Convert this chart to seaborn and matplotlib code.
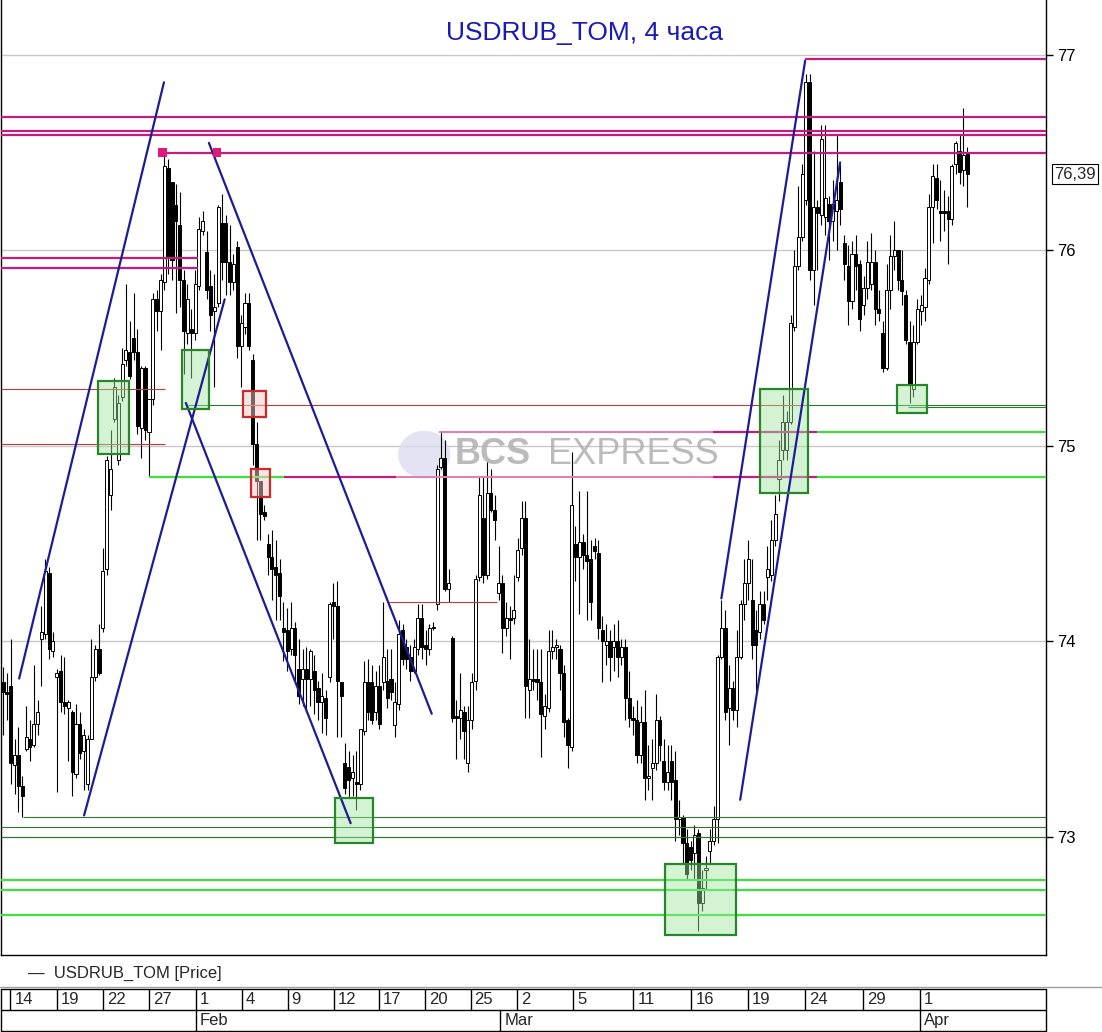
import matplotlib
matplotlib.use("Agg")
import matplotlib.pyplot as plt
from matplotlib.patches import Rectangle, Circle
from matplotlib.lines import Line2D
import numpy as np
import pandas as pd
import seaborn as sns

# 4h candles USDRUB_TOM, 14 Jan - 2 Apr
opens = [73.79, 73.74, 73.77, 73.37, 73.42, 73.26, 73.45, 73.50, 73.47, 73.58,
         74.01, 74.04, 74.35, 73.95, 73.82, 73.85, 73.69, 73.66, 73.64, 73.32,
         73.58, 73.44, 73.27, 73.50, 73.82, 73.96, 74.07, 74.37, 74.75, 75.14,
         74.93, 75.25, 75.44, 75.48, 75.55, 75.48, 75.09, 75.40, 75.07, 75.24,
         75.75, 75.69, 75.84, 76.42, 76.35, 76.23, 76.13, 75.85, 75.58, 75.60,
         75.58, 75.82, 76.10, 75.99, 75.82, 75.69, 75.73, 76.14, 76.14, 75.94,
         75.84, 76.02, 75.51, 75.61, 75.73, 75.44, 75.01, 74.82, 74.66, 74.50,
         74.43, 74.38, 74.35, 74.07, 74.06, 73.96, 74.07, 73.86, 73.81, 73.86,
         73.81, 73.85, 73.76, 73.69, 73.71, 73.82, 74.20, 74.18, 73.79, 73.38,
         73.36, 73.30, 73.28, 73.27, 73.54, 73.79, 73.79, 73.64, 73.77, 73.79,
         73.80, 73.81, 73.57, 73.68, 74.06, 73.97, 73.92, 73.85, 73.96, 74.12,
         73.98, 73.96, 74.07, 74.19, 74.89, 74.94, 74.27, 74.02, 73.62, 73.61,
         73.64, 73.38, 73.60, 73.80, 74.33, 74.63, 74.34, 74.76, 74.67, 74.25,
         74.30, 74.07, 74.12, 74.12, 74.33, 74.48, 74.63, 73.75, 73.81, 73.81,
         73.79, 73.62, 73.66, 73.95, 73.97, 73.96, 73.84, 73.60, 73.46, 74.50,
         74.43, 74.51, 74.44, 74.42, 74.49, 74.45, 74.06, 73.98, 74.00, 73.97,
         74.00, 73.92, 73.97, 73.71, 73.61, 73.60, 73.42, 73.59, 73.30, 73.35,
         73.38, 73.60, 73.39, 73.28, 73.39, 73.29, 73.09, 73.10, 72.97, 72.95,
         72.92, 73.02, 72.66, 72.83, 72.93, 72.98, 73.09, 73.92, 74.07, 73.66,
         73.76, 73.65, 73.92, 74.19, 74.30, 74.21, 74.06, 74.05, 74.19, 74.33,
         74.34, 74.52, 74.83, 74.98, 74.98, 75.12, 75.61, 75.92, 76.07, 76.26,
         76.86, 75.90, 76.22, 76.18, 76.17, 76.24, 76.15, 76.20, 76.35, 76.04,
         75.92, 75.74, 75.98, 75.93, 75.72, 75.81, 75.83, 75.94, 75.70, 75.58,
         75.40, 75.80, 75.97, 76.00, 75.85, 75.77, 75.53, 75.29, 75.53, 75.69,
         75.71, 75.85, 76.22, 76.37, 76.20, 76.20, 76.20, 76.16, 76.44, 76.51,
         76.41, 76.50]
highs = [73.87, 73.84, 74.01, 73.50, 73.56, 73.31, 73.67, 73.60, 73.88, 73.70,
         74.18, 74.42, 74.38, 74.05, 73.86, 73.93, 73.92, 73.70, 73.65, 73.68,
         73.64, 73.55, 73.52, 74.01, 73.98, 74.09, 74.48, 74.95, 75.08, 75.35,
         75.26, 75.50, 75.83, 75.64, 75.78, 75.60, 75.41, 75.41, 75.24, 75.78,
         75.80, 75.88, 76.49, 76.47, 76.35, 76.34, 76.30, 75.90, 75.83, 75.70,
         75.90, 76.17, 76.20, 76.10, 75.90, 75.88, 76.23, 76.29, 76.18, 76.13,
         75.98, 76.05, 75.67, 75.78, 75.78, 75.47, 75.12, 74.82, 74.70, 74.55,
         74.57, 74.52, 74.42, 74.20, 74.17, 74.20, 74.10, 74.01, 73.96, 73.97,
         73.96, 73.93, 73.80, 73.84, 73.75, 74.20, 74.30, 74.31, 73.79, 73.48,
         73.44, 73.42, 73.44, 73.55, 73.90, 73.91, 73.88, 73.85, 73.88, 74.20,
         73.96, 73.96, 73.79, 74.11, 74.09, 74.01, 73.98, 74.01, 74.19, 74.19,
         74.06, 74.09, 74.10, 74.90, 75.07, 75.03, 74.37, 74.03, 73.70, 73.84,
         73.67, 73.67, 73.84, 74.34, 74.84, 74.84, 74.92, 74.88, 74.75, 74.49,
         74.34, 74.20, 74.18, 74.34, 74.53, 74.72, 74.72, 74.01, 73.96, 73.96,
         73.96, 73.73, 74.06, 74.06, 74.01, 73.98, 73.88, 73.61, 74.97, 74.59,
         74.77, 74.55, 74.77, 74.52, 74.53, 74.52, 74.13, 74.09, 74.06, 74.09,
         74.11, 74.01, 74.01, 73.85, 73.67, 73.70, 73.67, 73.75, 73.47, 73.50,
         73.73, 73.62, 73.50, 73.47, 73.47, 73.44, 73.19, 73.11, 73.04, 72.98,
         73.06, 73.04, 72.83, 72.90, 73.04, 73.16, 73.93, 74.21, 74.16, 73.88,
         73.80, 74.06, 74.21, 74.42, 74.52, 74.42, 74.16, 74.26, 74.26, 74.49,
         74.62, 74.75, 75.03, 75.26, 75.18, 75.67, 76.00, 76.33, 76.44, 76.90,
         76.90, 76.51, 76.26, 76.64, 76.64, 76.28, 76.36, 76.59, 76.44, 76.08,
         76.03, 76.05, 76.08, 75.95, 75.87, 76.05, 76.09, 76.00, 75.80, 75.64,
         75.93, 76.08, 76.15, 76.00, 76.00, 75.80, 75.64, 75.62, 75.75, 75.77,
         75.91, 76.29, 76.44, 76.44, 76.36, 76.31, 76.28, 76.44, 76.56, 76.59,
         76.73, 76.53]
lows = [73.52, 73.60, 73.27, 73.22, 73.13, 73.10, 73.44, 73.39, 73.46, 73.52,
        73.77, 74.01, 73.91, 73.92, 73.23, 73.64, 73.63, 73.39, 73.21, 73.30,
        73.40, 73.24, 73.24, 73.50, 73.80, 73.83, 74.05, 74.34, 74.67, 75.12,
        74.90, 75.23, 75.41, 75.34, 75.44, 75.06, 74.94, 75.03, 74.84, 75.21,
        75.59, 75.49, 75.80, 75.88, 75.85, 75.68, 75.71, 75.37, 75.52, 75.35,
        75.54, 75.80, 76.08, 75.75, 75.59, 75.30, 75.71, 75.85, 75.77, 75.77,
        75.80, 75.45, 75.30, 75.57, 75.49, 74.90, 74.52, 74.52, 74.62, 74.34,
        74.21, 74.11, 74.11, 73.90, 73.85, 73.93, 73.80, 73.68, 73.67, 73.64,
        73.67, 73.63, 73.60, 73.53, 73.52, 73.79, 74.01, 73.51, 73.51, 73.22,
        73.20, 73.21, 73.14, 73.24, 73.52, 73.60, 73.58, 73.60, 73.55, 73.75,
        73.66, 73.70, 73.51, 73.65, 73.88, 73.86, 73.80, 73.84, 73.93, 73.91,
        73.88, 73.93, 74.06, 74.16, 74.88, 74.26, 74.20, 73.59, 73.40, 73.50,
        73.40, 73.33, 73.55, 73.75, 74.31, 74.30, 74.32, 74.66, 74.52, 74.21,
        73.94, 74.03, 73.91, 74.09, 74.31, 74.44, 73.61, 73.61, 73.75, 73.70,
        73.41, 73.55, 73.64, 73.91, 73.91, 73.75, 73.51, 73.35, 73.44, 74.31,
        74.14, 74.37, 74.11, 74.11, 74.42, 74.01, 73.79, 73.88, 73.80, 73.85,
        73.82, 73.88, 73.60, 73.56, 73.52, 73.38, 73.38, 73.19, 73.24, 73.19,
        73.34, 73.39, 73.24, 73.24, 73.19, 72.98, 73.01, 72.86, 72.78, 72.83,
        72.78, 72.52, 72.62, 72.73, 72.86, 72.96, 72.97, 73.91, 73.60, 73.47,
        73.60, 73.56, 73.91, 74.11, 74.21, 73.91, 73.75, 74.01, 74.09, 74.21,
        74.31, 74.49, 74.72, 74.93, 74.93, 75.11, 75.59, 75.90, 76.05, 76.23,
        75.85, 75.72, 75.90, 76.13, 76.08, 75.95, 76.05, 76.00, 76.13, 75.85,
        75.62, 75.70, 75.80, 75.59, 75.67, 75.75, 75.80, 75.62, 75.64, 75.38,
        75.39, 75.70, 75.90, 75.80, 75.72, 75.52, 75.22, 75.25, 75.52, 75.62,
        75.64, 75.83, 76.04, 76.21, 76.05, 76.10, 75.93, 76.13, 76.39, 76.34,
        76.33, 76.22]
closes = [73.74, 73.73, 73.38, 73.42, 73.26, 73.21, 73.51, 73.46, 73.58, 73.64,
          74.05, 74.36, 73.96, 74.00, 73.84, 73.69, 73.67, 73.69, 73.33, 73.58,
          73.43, 73.52, 73.50, 73.82, 73.96, 73.84, 74.36, 74.93, 74.88, 75.30,
          75.22, 75.42, 75.49, 75.36, 75.48, 75.10, 75.40, 75.08, 75.24, 75.75,
          75.69, 75.85, 76.43, 75.96, 75.95, 76.15, 75.85, 75.59, 75.75, 75.58,
          75.83, 76.11, 76.15, 75.80, 75.67, 75.71, 76.22, 75.94, 75.94, 75.84,
          75.93, 75.51, 75.63, 75.73, 75.51, 75.01, 74.82, 74.65, 74.64, 74.43,
          74.37, 74.34, 74.23, 74.05, 73.95, 74.07, 73.93, 73.72, 73.86, 73.81,
          73.95, 73.75, 73.69, 73.72, 73.61, 74.19, 74.18, 73.80, 73.72, 73.25,
          73.29, 73.33, 73.27, 73.55, 73.79, 73.64, 73.60, 73.77, 73.58, 73.92,
          73.71, 73.74, 73.69, 74.04, 73.91, 73.91, 73.85, 73.97, 74.12, 73.97,
          73.96, 74.07, 74.07, 74.88, 74.94, 74.27, 74.30, 73.61, 73.61, 73.65,
          73.54, 73.60, 73.79, 74.32, 74.75, 74.34, 74.76, 74.67, 74.62, 74.30,
          74.07, 74.12, 74.11, 74.16, 74.47, 74.63, 73.77, 73.81, 73.80, 73.79,
          73.63, 73.67, 73.95, 73.97, 73.98, 73.84, 73.59, 73.47, 74.70, 74.43,
          74.51, 74.44, 74.41, 74.20, 74.46, 74.07, 74.00, 74.00, 73.92, 74.00,
          73.92, 73.97, 73.71, 73.61, 73.60, 73.42, 73.59, 73.30, 73.31, 73.38,
          73.60, 73.47, 73.28, 73.33, 73.28, 73.09, 73.10, 72.97, 72.81, 72.88,
          73.01, 72.66, 72.74, 72.84, 72.98, 73.09, 73.92, 74.07, 73.64, 73.76,
          73.65, 73.92, 74.19, 74.30, 74.42, 73.98, 73.98, 74.19, 74.11, 74.37,
          74.52, 74.65, 74.93, 75.12, 75.12, 75.63, 75.92, 76.07, 76.39, 76.86,
          75.90, 76.22, 76.19, 76.57, 76.27, 76.15, 76.24, 76.26, 76.21, 75.93,
          75.74, 75.98, 75.92, 75.65, 75.81, 75.94, 75.94, 75.70, 75.68, 75.40,
          75.80, 75.97, 76.00, 75.85, 75.79, 75.54, 75.31, 75.53, 75.70, 75.72,
          75.86, 76.22, 76.38, 76.26, 76.19, 76.19, 76.16, 76.43, 76.55, 76.40,
          76.49, 76.39]

# date scale (positions in bar numbers)
day_pos = [1.95, 14.0, 26.0, 38.0, 50.2, 62.2, 74.1, 86.1, 97.8, 109.8, 121.7,
           133.9, 148.5, 164.1, 179.2, 194.0, 208.8, 223.9, 238.8]
day_labels = ["14", "19", "22", "27", "1", "4", "9", "12", "17", "20", "25",
              "2", "5", "11", "16", "19", "24", "29", "1"]
month_pos = [50.2, 129.5, 238.8]
month_labels = ["Feb", "Mar", "Apr"]

# drawn levels: price, from bar, to bar (None = edge), colour, width
MAG, PINK, RED, DG, LG = "#c41c7e", "#e27ab4", "#c43a3a", "#2b7a2b", "#3ee03e"
levels = [
    (76.98, 208.8, None, MAG, 1.6),
    (76.68, None, None, MAG, 1.6),
    (76.61, None, None, MAG, 1.6),
    (76.59, None, None, MAG, 1.6),
    (76.50, 41.1, None, MAG, 1.6),
    (75.96, None, 50.7, MAG, 1.6),
    (75.91, None, 50.7, MAG, 1.6),
    (75.29, None, 42.1, RED, 0.8),
    (75.01, None, 42.1, RED, 0.8),
    (75.21, 48.1, 63.2, DG, 0.8),
    (75.21, 63.2, 208.8, RED, 0.8),
    (75.21, 208.8, None, DG, 0.8),
    (75.20, 235.6, None, DG, 0.8),
    (75.07, 113.4, 184.9, PINK, 1.4),
    (75.07, 184.9, 212.0, MAG, 1.6),
    (75.07, 212.0, None, LG, 1.6),
    (74.84, 38.0, 73.1, LG, 1.6),
    (74.84, 73.1, 102.2, MAG, 1.6),
    (74.84, 102.2, 184.9, PINK, 1.4),
    (74.84, 184.9, 212.0, MAG, 1.6),
    (74.84, 212.0, None, LG, 1.6),
    (74.20, 100.4, 128.5, RED, 0.8),
    (73.10, 5.2, None, DG, 0.8),
    (73.05, None, None, DG, 0.8),
    (73.00, None, None, DG, 0.8),
    (72.78, None, None, LG, 1.6),
    (72.73, None, None, LG, 1.6),
    (72.60, None, None, LG, 1.6),
]
trend_lines = [
    ((4.2, 73.81), (41.9, 76.86)),
    ((21.1, 73.11), (57.7, 75.75)),
    ((53.6, 76.55), (111.6, 73.63)),
    ((47.6, 75.22), (90.5, 73.07)),
    ((187.0, 74.22), (208.8, 76.97)),
    ((191.9, 73.19), (217.9, 76.45)),
]
green_boxes = [(24.7, 32.8, 74.96, 75.33), (46.6, 53.6, 75.19, 75.49),
               (86.3, 96.2, 72.97, 73.20), (172.2, 190.9, 72.50, 72.86),
               (197.1, 209.6, 74.76, 75.29), (232.8, 240.6, 75.17, 75.31)]
red_boxes = [(62.4, 68.4, 75.15, 75.28), (64.5, 69.4, 74.74, 74.88)]
marks_x = [41.6, 55.7]
marks_y = [76.50, 76.50]

sns.set_style("white")
plt.rcParams["font.family"] = ["Liberation Sans", "DejaVu Sans"]

df = pd.DataFrame({"o": opens, "h": highs, "l": lows, "c": closes})
df["i"] = np.arange(len(df))

W, H = 1102, 1032
fig = plt.figure(figsize=(W / 100, H / 100), dpi=100)
ax = fig.add_axes([1 / W, 1 - 955 / H, 1045 / W, 955 / H])
xlim = (-0.52, 271.5)
ax.set_xlim(*xlim)
ax.set_ylim(72.396, 77.281)

# grid
for t in [73, 74, 75, 76, 77]:
    ax.axhline(t, color="#c8c8c8", lw=1, zorder=1)

# candles
ax.vlines(df["i"], df["l"], df["h"], color="black", lw=0.8, zorder=3)
up = df[df["c"] >= df["o"]]
dn = df[df["c"] < df["o"]]
ax.bar(up["i"], (up["c"] - up["o"]).clip(lower=0.006), bottom=up["o"], width=0.8,
       color="white", edgecolor="black", linewidth=0.7, zorder=4)
ax.bar(dn["i"], dn["o"] - dn["c"], bottom=dn["c"], width=0.8,
       color="black", edgecolor="black", linewidth=0.7, zorder=4)

# levels
for y, x0, x1, col, lw in levels:
    x0 = xlim[0] if x0 is None else x0
    x1 = xlim[1] if x1 is None else x1
    ax.plot([x0, x1], [y, y], color=col, lw=lw, zorder=5, solid_capstyle="butt")

for (x0, y0), (x1, y1) in trend_lines:
    ax.plot([x0, x1], [y0, y1], color="#1c1c96", lw=1.6, zorder=6)

for x0, x1, y0, y1 in green_boxes:
    ax.add_patch(Rectangle((x0, y0), x1 - x0, y1 - y0, facecolor="#9fe59f",
                           alpha=0.45, edgecolor="none", zorder=5))
    ax.add_patch(Rectangle((x0, y0), x1 - x0, y1 - y0, facecolor="none",
                           edgecolor="#27862a", lw=1.6, zorder=6))
for x0, x1, y0, y1 in red_boxes:
    ax.add_patch(Rectangle((x0, y0), x1 - x0, y1 - y0, facecolor="#f6c8c8",
                           alpha=0.5, edgecolor="none", zorder=5))
    ax.add_patch(Rectangle((x0, y0), x1 - x0, y1 - y0, facecolor="none",
                           edgecolor="#cc2a2a", lw=1.6, zorder=6))
sns.scatterplot(x=marks_x, y=marks_y, marker="s", s=40, color="#e0187a",
                edgecolor="none", ax=ax, zorder=7)

# watermark
ax.add_patch(Circle((0.405, 0.524), 0.025, transform=ax.transAxes,
                    facecolor="#dcdcf0", edgecolor="none", alpha=0.8, zorder=2))
ax.text(0.434, 0.524, "BCS", transform=ax.transAxes, fontsize=26,
        fontweight="bold", color="#b0b0b0", alpha=0.85, va="center", zorder=2)
ax.text(0.523, 0.524, "EXPRESS", transform=ax.transAxes, fontsize=26,
        color="#b0b0b0", alpha=0.85, va="center", zorder=2)

fig.text(585 / W, 1 - 33 / H, "USDRUB_TOM, 4 часа", color="#1a1ab4",
         fontsize=19, ha="center", va="center")

ax.yaxis.tick_right()
ax.set_yticks([73, 74, 75, 76, 77])
ax.set_yticklabels(["73", "74", "75", "76", "77"])
ax.tick_params(axis="y", direction="out", length=5, width=1, labelsize=12,
               pad=3, colors="black", right=True)
ax.set_xticks([])
for side in ["left", "right", "bottom"]:
    ax.spines[side].set_color("black")
    ax.spines[side].set_linewidth(1)
ax.spines["top"].set_visible(False)

ax.annotate(f"{closes[-1]:.2f}".replace(".", ","), xy=(1.0, closes[-1]),
            xycoords=("axes fraction", "data"), xytext=(6, 0),
            textcoords="offset points", va="center", ha="left", fontsize=12,
            bbox=dict(boxstyle="square,pad=0.15", fc="white", ec="black", lw=0.8))

# legend line
fig.text(28 / W, 1 - 973 / H, "—  USDRUB_TOM [Price]", fontsize=12,
         va="center", ha="left")
fig.add_artist(Line2D([0, 1], [1 - 987 / H] * 2, color="#a0a0a0", lw=1))

# date scale
axd = fig.add_axes([1 / W, 1 - 1031 / H, 1045 / W, 42 / H])
axd.set_xlim(*xlim)
axd.set_ylim(0, 1)
axd.axis("off")
for y in [0.0, 0.5, 1.0]:
    axd.plot(xlim, [y, y], color="black", lw=1, clip_on=False)
axd.plot([xlim[0], xlim[0]], [0, 1], color="black", lw=1, clip_on=False)
axd.plot([xlim[1], xlim[1]], [0, 1], color="black", lw=1, clip_on=False)
for p, lab in zip(day_pos, day_labels):
    axd.plot([p, p], [0.5, 1], color="black", lw=1)
    axd.text(p + 1.0, 0.74, lab, fontsize=12, va="center", ha="left")
for p, lab in zip(month_pos, month_labels):
    axd.plot([p, p], [0, 0.5], color="black", lw=1)
    axd.text(p + 1.0, 0.24, lab, fontsize=12, va="center", ha="left")

fig.savefig("out.png", dpi=100)
